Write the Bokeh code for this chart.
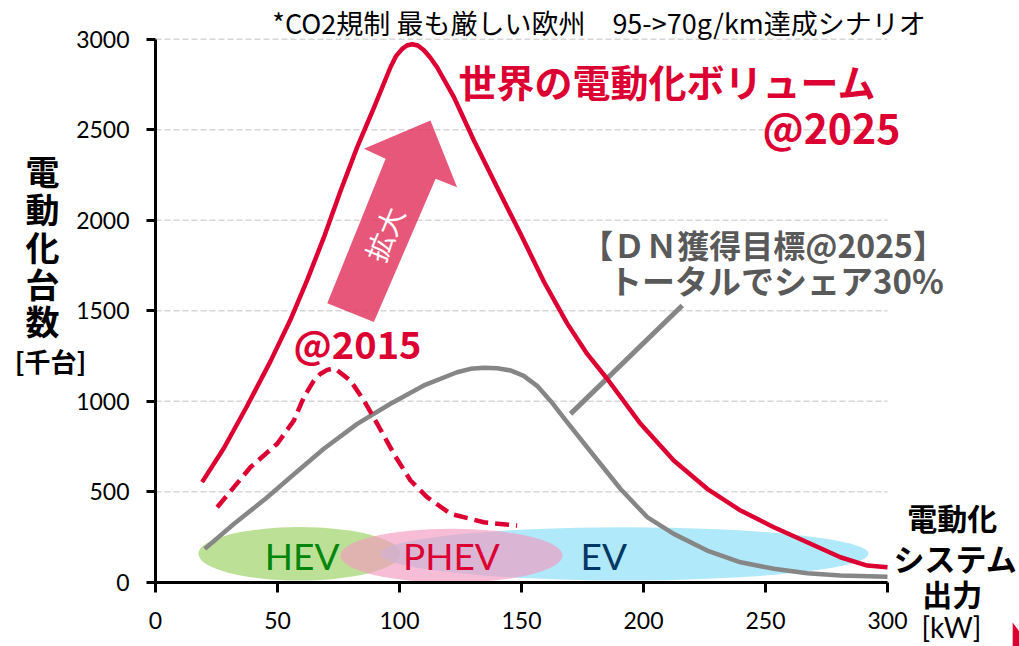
from bokeh.plotting import figure
from bokeh.models import Label, Range1d, FixedTicker
from bokeh.embed import file_html
from bokeh.resources import INLINE

# ---------------- data ----------------
x_ticks = [0, 50, 100, 150, 200, 250, 300]
y_ticks = [0, 500, 1000, 1500, 2000, 2500, 3000]

# World electrification volume @2025 (solid red)
kw_2025 = [19.1, 28.0, 37.6, 47.1, 55.3, 62.2, 69.0, 75.8, 82.7, 89.5, 96.3, 98.5,
           101.0, 103.0, 105.2, 107.5, 109.9, 112.5, 115.4, 122.3, 130.5, 140.0,
           149.6, 159.2, 168.7, 177.0, 185.1, 198.8, 212.4, 226.1, 239.8, 253.4,
           267.1, 280.7, 291.7, 300.0]
vol_2025 = [553, 740, 975, 1220, 1450, 1670, 1905, 2160, 2405, 2620, 2845, 2905,
            2945, 2965, 2972, 2965, 2940, 2900, 2845, 2680, 2440, 2182,
            1925, 1660, 1430, 1260, 1124, 875, 672, 516, 396, 304,
            221, 138, 92, 83]

# @2015 (dashed red)
kw_2015 = [25.3, 38.9, 49.9, 56.7, 60.8, 64.9, 67.5, 70.4, 72.5, 74.5, 79.9, 85.4,
           90.9, 97.7, 104.5, 111.3, 120.9, 134.5, 148.2]
vol_2015 = [414, 635, 765, 893, 1022, 1114, 1150, 1173, 1180, 1170, 1114, 1004,
            875, 709, 562, 470, 378, 331, 313]

# DN target @2025 (gray)
kw_dn = [20.2, 32.1, 45.1, 55.3, 69.0, 82.7, 96.3, 110.0, 123.6, 129.1, 134.6,
         140.0, 145.5, 150.9, 156.4, 162.0, 168.7, 179.6, 190.6, 201.5, 212.4,
         226.1, 239.8, 253.4, 267.1, 280.7, 300.0]
vol_dn = [184, 322, 461, 580, 737, 875, 986, 1087, 1160, 1179, 1185,
          1182, 1170, 1140, 1085, 1000, 885, 700, 515, 360, 267,
          175, 110, 74, 50, 37, 30]

# Power bands of each electrification type
seg_names = ["HEV", "PHEV", "EV"]
seg_center_kw = [59.0, 121.3, 192.2]
seg_span_kw = [82.8, 91.0, 200.0]
seg_center_vol = [157, 147, 157]
seg_span_vol = [295, 298, 294]

# Leader line, "expansion" arrow and corner mark (annotation shapes, data coordinates)
leader_kw = [170.1, 215.9]
leader_vol = [930, 1529]
arrow_kw = [112.7, 123.6, 114.8, 89.5, 70.4, 94.3, 85.4]
arrow_vol = [2551, 2182, 2229, 1437, 1541, 2339, 2395]
corner_kw = [351.3, 354.2, 354.2, 351.3]
corner_vol = [-223, -275, -360, -360]

RED = "#dc0032"
GRAY = "#868686"
JP = "Noto Sans CJK JP"
LAT = "Lato"

# frame fills the whole canvas; 0..300 kW maps to x=155..887 px, 0..3000 to y=581.7..38.7 px
p = figure(width=1019, height=646,
           x_range=Range1d(-63.52, 354.10), y_range=Range1d(-355.2, 3213.8),
           output_backend="svg", toolbar_location=None,
           min_border_left=0, min_border_right=0, min_border_top=0, min_border_bottom=0)
p.outline_line_color = None
p.background_fill_color = "white"
p.border_fill_color = "white"
p.xgrid.visible = False
p.ygrid.visible = False

p.xaxis.ticker = FixedTicker(ticks=x_ticks)
p.yaxis.ticker = FixedTicker(ticks=y_ticks)
p.xaxis.fixed_location = 0
p.yaxis.fixed_location = 0
p.xaxis.bounds = (0, 300)
p.yaxis.bounds = (0, 3000)
for ax in (p.xaxis, p.yaxis):
    ax.axis_line_width = 3
    ax.axis_line_color = "black"
    ax.major_tick_line_width = 3
    ax.major_tick_line_color = "black"
    ax.major_tick_in = 0
    ax.minor_tick_in = 0
    ax.minor_tick_out = 0
    ax.major_label_text_font = LAT
    ax.major_label_text_font_size = "23px"
    ax.major_label_text_color = "black"
p.xaxis.major_tick_out = 10
p.yaxis.major_tick_out = 9
p.xaxis.major_label_standoff = 20
p.yaxis.major_label_standoff = 17

# dashed horizontal gridlines, 0..300 kW
p.segment(x0=[x_ticks[0]] * len(y_ticks), x1=[x_ticks[-1]] * len(y_ticks),
          y0=y_ticks, y1=y_ticks, line_color="#d6d6d6", line_width=1.5, line_dash="6 3")

# ellipses (green, cyan, then pink on top)
fills = {"HEV": ("#9fd46a", 0.7), "EV": ("#8fe0f8", 0.7), "PHEV": ("#f29ac0", 0.65)}
for name in ["HEV", "EV", "PHEV"]:
    i = seg_names.index(name)
    c, a = fills[name]
    p.ellipse(x=seg_center_kw[i], y=seg_center_vol[i], width=seg_span_kw[i],
              height=seg_span_vol[i], fill_color=c, fill_alpha=a, line_color=None)

# arrow
p.patch(arrow_kw, arrow_vol, fill_color="#e23a62", fill_alpha=0.85, line_color=None)
p.patch(corner_kw, corner_vol, fill_color=RED, line_color=None)

# curves
p.line(kw_dn, vol_dn, line_color=GRAY, line_width=4.5, line_join="round")
p.line(leader_kw, leader_vol, line_color=GRAY, line_width=5)
p.line(kw_2015, vol_2015, line_color=RED, line_width=4.5, line_dash="14 7", line_join="round")
p.line(kw_2025, vol_2025, line_color=RED, line_width=4.5, line_join="round")


def lab(x, y, text, font=JP, size=24, color="black", align="left", bold=False, angle=0):
    p.add_layout(Label(x=x, y=y, text=text, text_font=font, text_font_size=f"{size}px",
                       text_color=color, text_align=align, text_baseline="middle",
                       text_font_style="bold" if bold else "normal",
                       angle=angle, angle_units="deg"))


lab(181.8, 3090, "*CO2規制 最も厳しい欧州　95->70g/km達成シナリオ", size=27, align="center")
lab(124.2, 2772, "世界の電動化ボリューム", size=38, color=RED, bold=True)
lab(305.3, 2523, "@2025", size=41, color=RED, bold=True, align="right")
lab(249.0, 1871, "【ＤＮ獲得目標@2025】", size=32, color="#595959", bold=True, align="center")
lab(254.5, 1667, "トータルでシェア30%", size=33, color="#595959", bold=True, align="center")
lab(56.6, 1322, "@2015", size=38, color=RED, bold=True)
lab(93.6, 1925, "拡大", size=28, color="white", align="center", angle=67.4)

lab(60.1, 150, "HEV", font=LAT, size=37, color="#00860a", align="center")
lab(121.3, 145, "PHEV", font=LAT, size=37, color=RED, align="center")
lab(183.7, 145, "EV", font=LAT, size=37, color="#003865", align="center")

# y-axis title (stacked)
for ch, yy in zip("電動化台数", [2274, 2064, 1854, 1650, 1445]):
    lab(-46.3, yy, ch, size=34, bold=True, align="center")
lab(-43.0, 1225, "[千台]", size=26, bold=True, align="center")

# x-axis title
lab(326.5, 359, "電動化", size=30, bold=True, align="center")
lab(327.9, 138, "システム", size=31, bold=True, align="center")
lab(326.5, -62, "出力", size=30, bold=True, align="center")
lab(326.2, -245, "[kW]", font=LAT, size=28, align="center")

open("out.html", "w").write(file_html(p, INLINE))
